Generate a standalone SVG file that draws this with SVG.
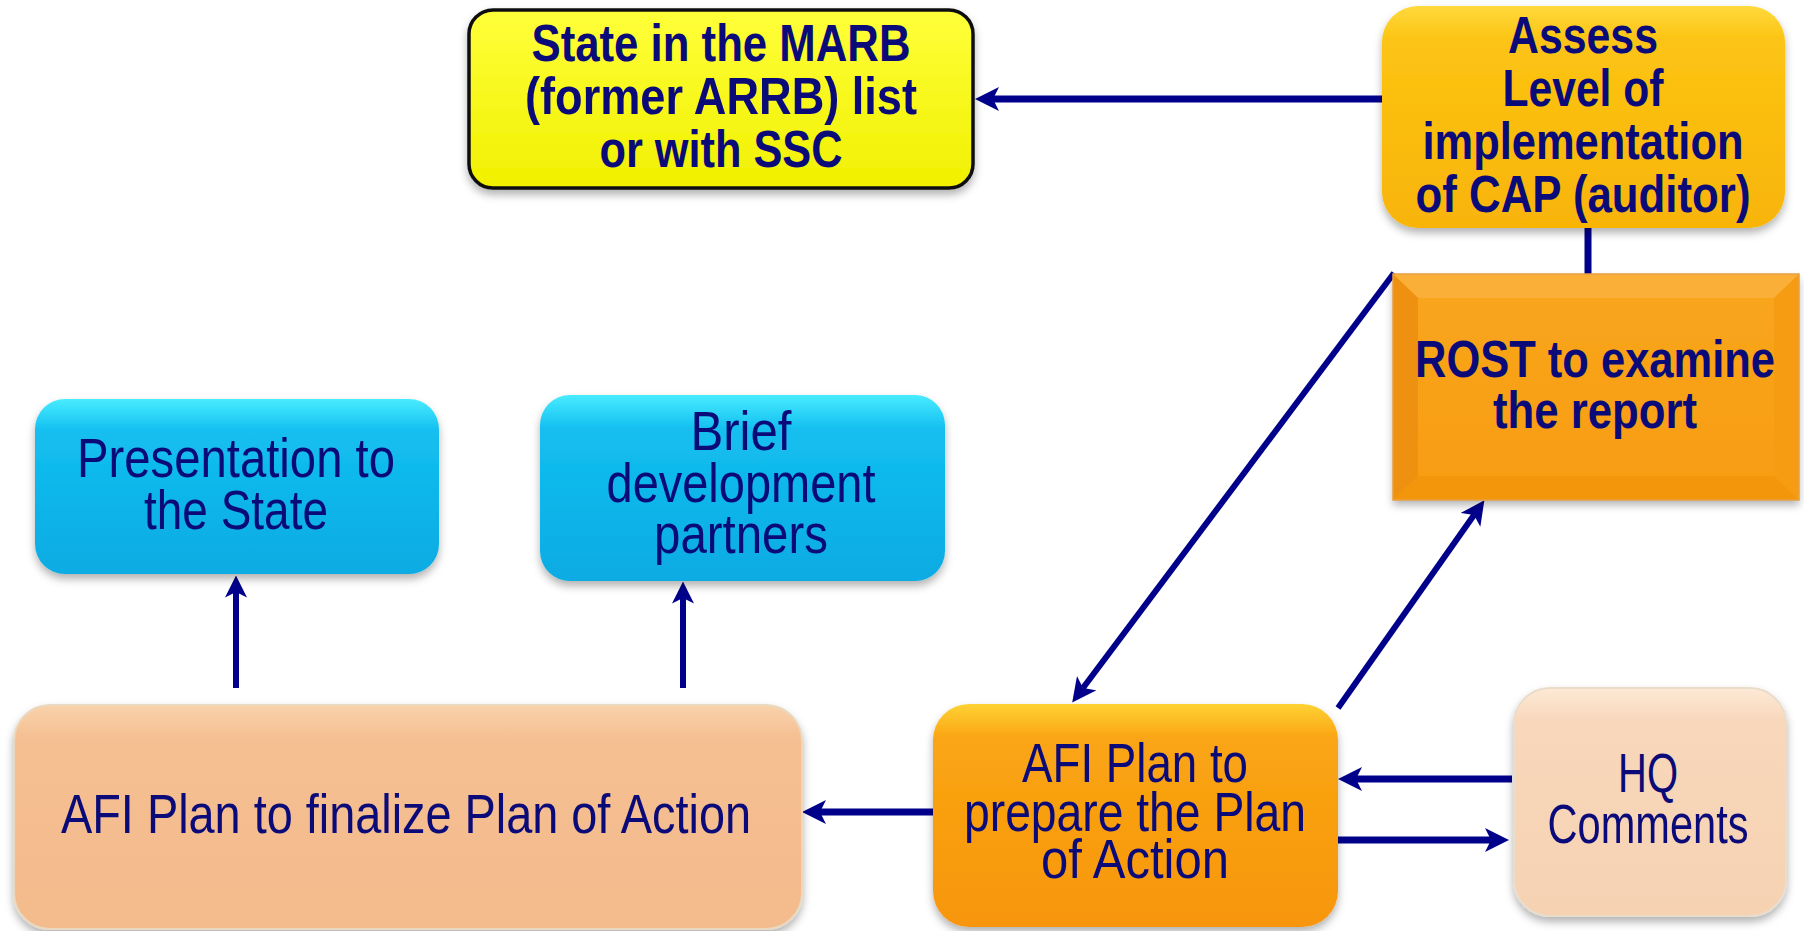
<svg xmlns="http://www.w3.org/2000/svg" width="1804" height="931" viewBox="0 0 1804 931">
<style>
.t{font-family:"Liberation Sans",Arial,sans-serif;fill:#0a0a78;text-anchor:middle}
.b{font-weight:bold;font-size:52px}
.n{font-weight:normal;font-size:56px}
.c{stroke:#00008b;fill:none}
</style>
<defs>
<filter id="sh" x="-10%" y="-10%" width="120%" height="130%"><feDropShadow dx="0" dy="5" stdDeviation="4" flood-color="#000" flood-opacity="0.3"/></filter>
<linearGradient id="gY" x1="0" y1="0" x2="0" y2="1"><stop offset="0" stop-color="#ffff3a"/><stop offset="1" stop-color="#f0f000"/></linearGradient>
<linearGradient id="gA" x1="0" y1="0" x2="0" y2="1"><stop offset="0" stop-color="#ffd93c"/><stop offset="0.15" stop-color="#fcc414"/><stop offset="1" stop-color="#f8b406"/></linearGradient>
<linearGradient id="gR" x1="0" y1="0" x2="0" y2="1"><stop offset="0" stop-color="#f9a61e"/><stop offset="1" stop-color="#f89c10"/></linearGradient>
<linearGradient id="gB" x1="0" y1="0" x2="0" y2="1"><stop offset="0" stop-color="#48ecff"/><stop offset="0.18" stop-color="#14bff0"/><stop offset="1" stop-color="#08abe3"/></linearGradient>
<linearGradient id="gF" x1="0" y1="0" x2="0" y2="1"><stop offset="0" stop-color="#f9d2ab"/><stop offset="0.15" stop-color="#f5bf92"/><stop offset="1" stop-color="#f4bb8c"/></linearGradient>
<linearGradient id="gP" x1="0" y1="0" x2="0" y2="1"><stop offset="0" stop-color="#ffd233"/><stop offset="0.15" stop-color="#faa514"/><stop offset="1" stop-color="#f7960a"/></linearGradient>
<linearGradient id="gH" x1="0" y1="0" x2="0" y2="1"><stop offset="0" stop-color="#fde9d6"/><stop offset="0.15" stop-color="#f8d7ba"/><stop offset="1" stop-color="#f6d2b3"/></linearGradient>
<marker id="ah" viewBox="0 0 10 10" refX="2.5" refY="5" markerWidth="24" markerHeight="24" markerUnits="userSpaceOnUse" orient="auto"><path d="M0,0 L10,5 L0,10 L2.5,5 z" fill="#00008b"/></marker>
<marker id="as" viewBox="0 0 10 10" refX="2.5" refY="5" markerWidth="22" markerHeight="22" markerUnits="userSpaceOnUse" orient="auto"><path d="M0,0 L10,5 L0,10 L2.5,5 z" fill="#00008b"/></marker>
</defs>
<rect width="1804" height="931" fill="#ffffff"/>

<g id="connectors">
<line class="c" x1="1382" y1="99" x2="993" y2="99" stroke-width="7" marker-end="url(#ah)"/>
<line class="c" x1="1588" y1="228" x2="1588" y2="275" stroke-width="7"/>
<line class="c" x1="1394" y1="273" x2="1083" y2="688" stroke-width="6" marker-end="url(#ah)"/>
<line class="c" x1="1338" y1="708" x2="1474" y2="515" stroke-width="6" marker-end="url(#ah)"/>
<line class="c" x1="236" y1="688" x2="236" y2="592" stroke-width="6" marker-end="url(#as)"/>
<line class="c" x1="683" y1="688" x2="683" y2="598" stroke-width="6" marker-end="url(#as)"/>
<line class="c" x1="933" y1="812" x2="820" y2="812" stroke-width="7" marker-end="url(#ah)"/>
<line class="c" x1="1512" y1="779" x2="1356" y2="779" stroke-width="7" marker-end="url(#ah)"/>
<line class="c" x1="1338" y1="840" x2="1491" y2="840" stroke-width="7" marker-end="url(#ah)"/>
</g>

<g id="node-marb">
<rect x="469" y="10" width="504" height="178" rx="24" fill="url(#gY)" stroke="#111" stroke-width="3.5" filter="url(#sh)"/>
<text class="t b" x="721" y="61" textLength="379" lengthAdjust="spacingAndGlyphs">State in the MARB</text>
<text class="t b" x="721" y="114" textLength="392" lengthAdjust="spacingAndGlyphs">(former ARRB)  list</text>
<text class="t b" x="721" y="167" textLength="243" lengthAdjust="spacingAndGlyphs">or with SSC</text>
</g>

<g id="node-assess">
<rect x="1382" y="6" width="403" height="222" rx="36" fill="url(#gA)" filter="url(#sh)"/>
<text class="t b" x="1583" y="53" textLength="150" lengthAdjust="spacingAndGlyphs">Assess</text>
<text class="t b" x="1583" y="106" textLength="161" lengthAdjust="spacingAndGlyphs">Level of</text>
<text class="t b" x="1583" y="159" textLength="321" lengthAdjust="spacingAndGlyphs">implementation</text>
<text class="t b" x="1583" y="212" textLength="335" lengthAdjust="spacingAndGlyphs">of CAP (auditor)</text>
</g>

<g id="node-rost">
<rect x="1393" y="274" width="406" height="226" fill="url(#gR)" filter="url(#sh)"/>
<polygon points="1393,274 1799,274 1774,298 1418,298" fill="#fab038"/>
<polygon points="1393,274 1418,298 1418,476 1393,500" fill="#ee9010"/>
<polygon points="1799,274 1774,298 1774,476 1799,500" fill="#f69c12"/>
<polygon points="1393,500 1418,476 1774,476 1799,500" fill="#f4960c"/>
<rect x="1393" y="274" width="406" height="226" fill="none" stroke="#e8a040" stroke-width="1.5"/>
<text class="t b" x="1595" y="377" textLength="360" lengthAdjust="spacingAndGlyphs">ROST to examine</text>
<text class="t b" x="1595" y="428" textLength="204" lengthAdjust="spacingAndGlyphs">the report</text>
</g>

<g id="node-presentation">
<rect x="35" y="399" width="404" height="175" rx="30" fill="url(#gB)" filter="url(#sh)"/>
<text class="t n" x="236" y="477" textLength="318" lengthAdjust="spacingAndGlyphs">Presentation to</text>
<text class="t n" x="236" y="529" textLength="184" lengthAdjust="spacingAndGlyphs">the State</text>
</g>

<g id="node-brief">
<rect x="540" y="395" width="405" height="186" rx="30" fill="url(#gB)" filter="url(#sh)"/>
<text class="t n" x="741" y="450" textLength="101" lengthAdjust="spacingAndGlyphs">Brief</text>
<text class="t n" x="741" y="502" textLength="269" lengthAdjust="spacingAndGlyphs">development</text>
<text class="t n" x="741" y="553" textLength="174" lengthAdjust="spacingAndGlyphs">partners</text>
</g>

<g id="node-finalize">
<rect x="14" y="705" width="788" height="224" rx="36" fill="url(#gF)" stroke="#e9d9c0" stroke-width="2" filter="url(#sh)"/>
<text class="t n" x="406" y="833" textLength="690" lengthAdjust="spacingAndGlyphs">AFI Plan to finalize Plan of Action</text>
</g>

<g id="node-prepare">
<rect x="933" y="704" width="405" height="223" rx="36" fill="url(#gP)" filter="url(#sh)"/>
<text class="t n" x="1135" y="782" textLength="226" lengthAdjust="spacingAndGlyphs">AFI Plan to</text>
<text class="t n" x="1135" y="831" textLength="342" lengthAdjust="spacingAndGlyphs">prepare the Plan</text>
<text class="t n" x="1135" y="878" textLength="188" lengthAdjust="spacingAndGlyphs">of Action</text>
</g>

<g id="node-hq">
<rect x="1514" y="688" width="272" height="228" rx="36" fill="url(#gH)" stroke="#eadccb" stroke-width="2" filter="url(#sh)"/>
<text class="t n" x="1648" y="792" textLength="60" lengthAdjust="spacingAndGlyphs">HQ</text>
<text class="t n" x="1648" y="843" textLength="201" lengthAdjust="spacingAndGlyphs">Comments</text>
</g>
</svg>
